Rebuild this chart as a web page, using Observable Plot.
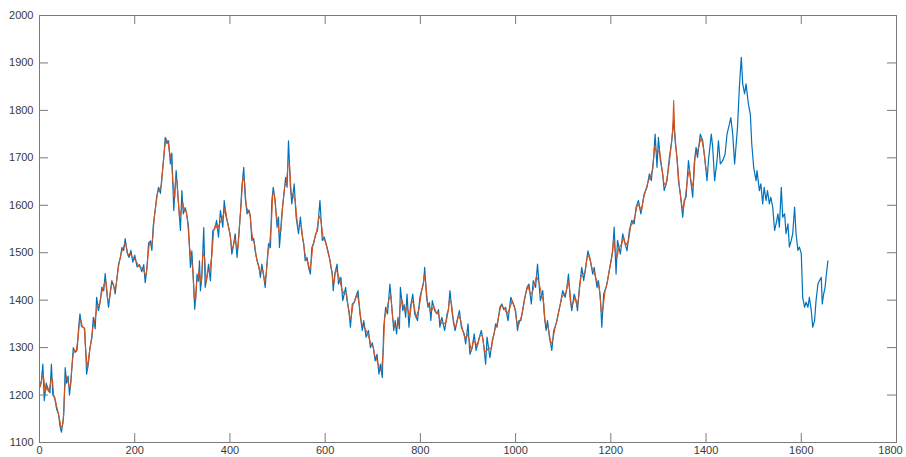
<!DOCTYPE html>
<html>
<head>
<meta charset="utf-8">
<script src="https://cdn.jsdelivr.net/npm/d3@7"></script>
<script src="https://cdn.jsdelivr.net/npm/@observablehq/plot@0.6"></script>
<style>
  html, body { margin: 0; padding: 0; background: #fff; }
  #chart { width: 906px; height: 457px; }
</style>
</head>
<body>
<div id="chart"></div>
<script>
// Blue series (full observed series)
const blueX = [0,4,7,10,14,18,22,25,28,32,36,40,43,46,49,51,54,57,60,63,66,68,71,75,79,82,85,88,92,95,99,103,106,110,113,117,120,124,128,131,135,138,141,145,149,152,156,159,163,166,170,173,177,180,184,188,192,196,200,205,210,215,219,222,226,229,233,236,239,243,246,250,254,257,261,264,268,271,275,278,282,285,287,290,292,296,299,302,306,309,313,317,320,324,326,329,331,334,336,338,341,345,348,352,355,359,364,368,372,376,380,385,388,391,394,398,401,404,408,411,415,418,422,425,429,432,436,440,443,446,450,453,457,461,464,467,471,474,478,481,485,488,491,495,499,502,504,509,513,517,520,523,527,530,535,539,544,548,551,555,558,562,565,569,572,576,580,584,589,594,598,604,609,612,615,617,620,625,628,633,637,643,646,650,653,657,661,664,669,673,678,681,686,691,695,699,702,705,709,713,716,720,723,727,731,736,740,744,747,750,753,756,758,763,766,769,772,776,779,784,788,794,799,804,807,809,813,816,819,822,825,830,835,838,841,845,851,856,859,862,867,870,873,877,882,886,892,895,900,904,909,913,917,922,928,932,937,940,946,951,955,958,961,967,971,975,979,984,990,995,1000,1004,1007,1011,1015,1018,1024,1028,1033,1037,1042,1046,1052,1057,1060,1064,1067,1071,1076,1080,1085,1088,1094,1099,1104,1108,1111,1115,1118,1123,1127,1130,1134,1139,1143,1148,1152,1157,1162,1165,1171,1174,1178,1181,1185,1190,1193,1199,1204,1207,1211,1214,1220,1225,1228,1234,1239,1244,1249,1253,1258,1263,1266,1270,1276,1281,1285,1290,1293,1297,1300,1304,1309,1312,1318,1323,1328,1332,1335,1339,1342,1346,1351,1354,1358,1363,1367,1372,1375,1379,1382,1388,1393,1397,1402,1405,1411,1414,1418,1423,1426,1430,1435,1440,1444,1449,1452,1456,1460,1466,1470,1474,1477,1481,1484,1489,1493,1496,1500,1505,1507,1512,1515,1519,1522,1526,1529,1533,1536,1540,1544,1547,1551,1554,1558,1561,1565,1568,1572,1575,1579,1582,1586,1589,1593,1596,1600,1603,1607,1610,1614,1617,1621,1624,1628,1631,1635,1638,1642,1644,1647,1650,1652,1656];
const blueY = [1215,1230,1265,1188,1225,1210,1205,1265,1200,1195,1170,1160,1135,1122,1140,1160,1258,1225,1240,1200,1230,1258,1300,1290,1295,1340,1371,1345,1343,1340,1244,1270,1300,1320,1364,1340,1406,1378,1400,1427,1420,1456,1420,1385,1420,1441,1430,1413,1450,1476,1490,1511,1505,1530,1500,1490,1505,1480,1495,1470,1475,1460,1475,1437,1470,1520,1525,1505,1558,1590,1617,1638,1625,1659,1700,1743,1730,1736,1687,1710,1589,1640,1673,1630,1603,1547,1631,1582,1595,1582,1554,1469,1504,1427,1381,1420,1455,1440,1483,1420,1450,1553,1427,1450,1476,1441,1547,1550,1568,1533,1589,1554,1610,1580,1568,1550,1533,1497,1520,1540,1490,1530,1582,1638,1680,1617,1582,1590,1575,1526,1530,1504,1483,1470,1448,1476,1450,1427,1480,1519,1511,1610,1638,1610,1554,1575,1511,1582,1620,1659,1638,1736,1638,1603,1645,1575,1540,1575,1540,1519,1483,1490,1469,1455,1511,1520,1540,1547,1610,1526,1533,1511,1490,1470,1455,1420,1455,1476,1434,1448,1399,1427,1399,1378,1343,1392,1395,1406,1420,1371,1336,1357,1322,1336,1300,1310,1294,1272,1286,1244,1265,1237,1343,1385,1371,1434,1385,1336,1357,1329,1364,1340,1427,1378,1390,1364,1413,1343,1385,1413,1371,1357,1406,1427,1440,1469,1406,1385,1395,1357,1399,1378,1371,1380,1343,1364,1336,1371,1380,1420,1371,1350,1336,1357,1378,1343,1329,1308,1350,1286,1300,1329,1294,1315,1336,1315,1265,1322,1279,1315,1330,1350,1343,1385,1392,1380,1385,1357,1406,1392,1378,1336,1357,1357,1380,1399,1427,1434,1392,1441,1427,1476,1399,1420,1371,1336,1357,1322,1294,1336,1350,1364,1392,1420,1406,1427,1455,1399,1378,1413,1399,1378,1427,1469,1441,1476,1504,1483,1455,1469,1427,1441,1406,1343,1413,1427,1441,1476,1504,1554,1455,1526,1497,1540,1526,1504,1547,1568,1561,1596,1610,1582,1600,1624,1638,1666,1652,1701,1750,1680,1743,1694,1666,1631,1652,1701,1736,1780,1736,1701,1652,1624,1575,1610,1617,1694,1659,1617,1687,1722,1701,1750,1736,1701,1652,1694,1750,1722,1652,1694,1736,1687,1694,1708,1750,1771,1785,1750,1687,1764,1849,1912,1856,1835,1856,1813,1792,1729,1680,1652,1673,1631,1645,1603,1638,1610,1631,1603,1617,1596,1547,1561,1582,1554,1638,1575,1582,1540,1561,1512,1526,1540,1596,1540,1505,1512,1498,1406,1385,1396,1385,1406,1378,1343,1357,1399,1434,1441,1448,1392,1413,1427,1448,1483];

// Orange series (overlay, ends near 1404)
const orangeX = [2,6,9,12,16,20,24,27,30,34,38,42,45,48,50,53,56,59,62,65,67,70,73,77,81,84,87,90,94,97,101,104,108,112,115,119,122,126,130,133,137,140,143,147,151,154,158,161,165,168,172,175,179,182,186,190,194,198,203,208,213,217,221,224,228,231,235,238,241,245,248,252,256,259,263,266,270,273,277,280,284,286,289,291,294,298,301,304,308,311,315,319,322,325,328,330,333,335,337,340,343,347,350,354,357,362,366,370,374,378,383,387,390,393,396,400,403,406,410,413,417,420,424,427,431,434,438,442,445,448,452,455,459,463,466,469,473,476,480,483,487,490,493,497,500,503,507,511,515,519,522,525,529,532,537,542,546,550,553,557,560,564,567,571,574,578,582,587,591,596,601,606,611,614,616,619,622,627,631,635,640,645,648,652,655,659,663,667,671,676,680,684,689,693,697,701,704,707,711,715,718,722,725,729,734,738,742,746,749,752,755,757,761,765,768,771,774,778,782,786,791,797,802,806,808,811,815,818,821,824,828,833,837,840,843,848,854,858,861,865,869,872,875,880,884,889,894,898,902,907,911,915,920,925,930,935,939,943,949,953,957,960,964,969,973,977,982,987,993,998,1002,1006,1009,1013,1017,1021,1026,1031,1035,1040,1044,1049,1055,1059,1062,1066,1069,1074,1078,1083,1087,1091,1097,1102,1106,1110,1113,1117,1121,1125,1129,1132,1137,1141,1146,1150,1155,1160,1164,1168,1173,1176,1180,1183,1188,1192,1196,1202,1206,1209,1213,1217,1223,1227,1231,1237,1242,1247,1251,1256,1261,1265,1268,1273,1279,1283,1288,1292,1295,1299,1302,1307,1311,1315,1321,1326,1330,1332,1334,1337,1341,1344,1349,1352,1356,1361,1365,1370,1374,1377,1381,1385,1390,1395,1400,1404];
const orangeY = [1218,1240,1235,1205,1220,1208,1230,1235,1198,1185,1168,1150,1132,1135,1150,1215,1240,1232,1220,1218,1245,1280,1295,1292,1320,1355,1358,1344,1341,1295,1255,1285,1310,1342,1352,1373,1392,1390,1414,1424,1438,1438,1402,1402,1432,1436,1421,1432,1463,1483,1500,1508,1518,1515,1495,1498,1492,1488,1482,1472,1468,1468,1456,1453,1495,1522,1515,1532,1574,1604,1627,1632,1642,1680,1722,1740,1733,1712,1698,1650,1615,1656,1652,1616,1575,1589,1606,1588,1588,1568,1512,1486,1466,1404,1400,1437,1447,1462,1452,1435,1500,1490,1438,1463,1458,1494,1548,1559,1550,1561,1571,1582,1595,1574,1559,1541,1515,1508,1530,1515,1510,1556,1610,1659,1648,1600,1586,1582,1550,1528,1517,1493,1476,1459,1462,1463,1438,1453,1500,1515,1560,1624,1624,1582,1564,1543,1546,1601,1640,1648,1687,1687,1620,1624,1610,1557,1557,1557,1530,1501,1486,1480,1462,1483,1515,1530,1543,1578,1568,1530,1522,1500,1480,1462,1438,1437,1465,1455,1441,1423,1413,1413,1388,1360,1367,1393,1400,1413,1395,1353,1346,1340,1329,1318,1305,1302,1283,1279,1265,1254,1250,1290,1364,1378,1402,1410,1360,1346,1343,1346,1352,1383,1402,1384,1377,1388,1378,1364,1399,1392,1364,1381,1416,1433,1454,1437,1395,1390,1376,1378,1388,1374,1375,1361,1353,1350,1353,1375,1400,1395,1360,1343,1346,1367,1360,1336,1318,1329,1318,1293,1314,1311,1304,1325,1325,1290,1293,1300,1297,1322,1340,1346,1364,1388,1386,1382,1371,1381,1399,1385,1357,1346,1357,1368,1390,1413,1430,1413,1416,1434,1451,1437,1410,1395,1353,1346,1340,1308,1315,1343,1357,1378,1406,1413,1416,1441,1427,1388,1395,1406,1388,1402,1448,1455,1458,1490,1494,1469,1462,1448,1434,1423,1375,1378,1420,1434,1458,1490,1529,1504,1490,1511,1518,1533,1515,1525,1557,1564,1578,1603,1596,1591,1612,1631,1652,1659,1676,1725,1715,1711,1718,1680,1648,1641,1676,1718,1760,1821,1760,1718,1676,1638,1600,1592,1613,1655,1676,1638,1652,1704,1711,1725,1743,1718,1676,1673];

const xTicks = [0,200,400,600,800,1000,1200,1400,1600,1800];
const yTicks = [1100,1200,1300,1400,1500,1600,1700,1800,1900,2000];

const blue = blueX.map((x, i) => ({x, y: blueY[i]}));
const orange = orangeX.map((x, i) => ({x, y: orangeY[i]}));

const W = 906, H = 457, ML = 39, MR = 10, MT = 15, MB = 15;
const TL = 9; // tick length in px
const innerW = W - ML - MR, innerH = H - MT - MB;
const axisColor = "#7a7a7a";
const lastTick = xTicks[xTicks.length - 1];

const chart = Plot.plot({
  width: W, height: H,
  marginLeft: ML, marginRight: MR, marginTop: MT, marginBottom: MB,
  x: {domain: [0, 1800], label: null},
  y: {domain: [1100, 2000], label: null},
  style: {fontFamily: "'Liberation Sans', Arial, Helvetica, sans-serif", fontSize: "11px", color: "#3a3a3a", background: "#fff", overflow: "visible"},
  marks: [
    Plot.lineY(blue, {x: "x", y: "y", stroke: "#0072BD", strokeWidth: 1.2}),
    Plot.lineY(orange, {x: "x", y: "y", stroke: "#D95319", strokeWidth: 1.1}),
    Plot.frame({stroke: axisColor, strokeWidth: 1}),
    Plot.tickY(yTicks, {y: d => d, stroke: axisColor, insetRight: innerW - TL}),
    Plot.tickY(yTicks, {y: d => d, stroke: axisColor, insetLeft: innerW - TL}),
    Plot.tickX(xTicks, {x: d => d, stroke: axisColor, insetTop: innerH - TL}),
    Plot.tickX(xTicks, {x: d => d, stroke: axisColor, insetBottom: innerH - TL}),
    Plot.axisY({ticks: yTicks, tickSize: 0, tickPadding: 6, tickFormat: d => String(d), label: null}),
    Plot.axisX(xTicks.filter(d => d !== lastTick), {tickSize: 0, tickPadding: 4, tickFormat: d => String(d), label: null}),
    Plot.axisX([lastTick], {tickSize: 0, tickPadding: 4, tickFormat: d => String(d), label: null, dx: -6})
  ]
});
document.getElementById("chart").appendChild(chart);
</script>
</body>
</html>
